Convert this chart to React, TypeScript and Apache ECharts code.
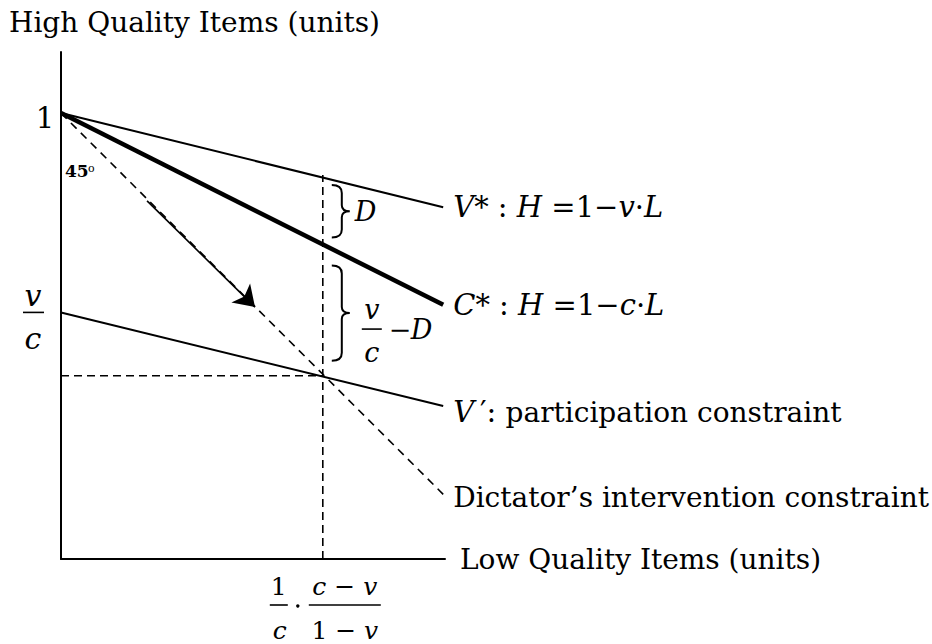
import React, { useEffect, useRef } from 'react';
import * as echarts from 'echarts';

// ---- data (axis units: L = low quality items, H = high quality items) ----
const X_MAX = 0.861;
const Y_MAX = 1.137;
const vStarLine: number[][] = [[0, 1], [0.857, 0.789]];
const cStarLine: number[][] = [[0, 1], [0.857, 0.57]];
const dictatorLine: number[][] = [[0, 1], [0.857, 0.145]];
const vPrimeLine: number[][] = [[0, 0.553], [0.857, 0.343]];
const intersection: number[] = [0.587, 0.411];
const verticalGuide: number[][] = [[0.587, 0], [0.587, 0.861]];
const horizontalGuide: number[][] = [[0, 0.411], [0.587, 0.411]];
const arrowSegment: number[][] = [[0.193, 0.803], [0.435, 0.565]];

const yAxisTitle = 'High Quality Items (units)';
const xAxisTitle = 'Low Quality Items (units)';
const yTickOne = '1';
const angleLabel = '45';

const TEXT_FONT = '"DejaVu Serif", serif';
const MATH_FONT = '"DejaVu Serif", serif';
const TEXT_SIZE = 28;
const MATH_SIZE = 29;

const rich = {
  i: { fontFamily: MATH_FONT, fontStyle: 'italic', fontSize: MATH_SIZE, color: '#000' },
  n: { fontFamily: MATH_FONT, fontSize: MATH_SIZE, color: '#000' },
  t: { fontFamily: TEXT_FONT, fontSize: TEXT_SIZE, color: '#000' },
};

const yAt = (line: number[][], x: number) =>
  line[0][1] + ((line[1][1] - line[0][1]) * (x - line[0][0])) / (line[1][0] - line[0][0]);

const bracePath = (h: number) => {
  const m = h / 2;
  return `M0 0 C6 0 10 2 10 8 L10 ${m - 6} C10 ${m - 2} 13 ${m} 18 ${m} C13 ${m} 10 ${m + 2} 10 ${m + 6} L10 ${h - 8} C10 ${h - 2} 6 ${h} 0 ${h}`;
};

export default function App() {
  const ref = useRef<HTMLDivElement>(null);
  useEffect(() => {
    const el = ref.current!;
    const chart = echarts.init(el, null, { renderer: 'svg' });
    const lineSeries = (data: number[][], width: number, label: string | null, dash: any = 'solid', offset: number[] = [0, 0]) => ({
      type: 'line',
      data,
      symbol: 'none',
      showSymbol: false,
      silent: true,
      clip: false,
      lineStyle: { color: '#000', width, type: dash },
      endLabel: label
        ? { show: true, formatter: () => label, distance: 10, offset, rich, color: '#000' }
        : { show: false },
    });
    const axisCommon = {
      type: 'value',
      min: 0,
      axisLine: { show: true, onZero: false, lineStyle: { color: '#000', width: 2 } },
      axisTick: { show: false },
      axisLabel: { show: false },
      splitLine: { show: false },
    };
    chart.setOption({
      animation: false,
      title: {
        text: yAxisTitle,
        left: 9,
        top: 8,
        padding: 0,
        textStyle: { fontFamily: TEXT_FONT, fontSize: TEXT_SIZE, fontWeight: 'normal', color: '#000' },
      },
      grid: { left: 61, top: 52, width: 384, height: 507 },
      xAxis: {
        ...axisCommon,
        max: X_MAX,
        name: xAxisTitle,
        nameLocation: 'end',
        nameGap: 15,
        nameTextStyle: { fontFamily: TEXT_FONT, fontSize: TEXT_SIZE, color: '#000', verticalAlign: 'middle' },
      },
      yAxis: { ...axisCommon, max: Y_MAX },
      series: [
        lineSeries(verticalGuide, 1.6, null, [8, 5]),
        lineSeries(horizontalGuide, 1.6, null, [8, 5]),
        lineSeries(dictatorLine, 1.6, '{t|Dictator’s intervention constraint}', [8, 6], [0, 3]),
        lineSeries(vStarLine, 2, '{i|V}{n|* : }{i|H}{n| =1−}{i|v}{n|·}{i|L}'),
        lineSeries(cStarLine, 4.5, '{i|C}{n|* : }{i|H}{n| =1−}{i|c}{n|·}{i|L}'),
        lineSeries(vPrimeLine, 2, '{i|V}{n|\u2009′: }{t|participation constraint}', 'solid', [0, 6]),
        {
          type: 'lines',
          coordinateSystem: 'cartesian2d',
          silent: true,
          symbol: ['none', 'arrow'],
          symbolSize: 20,
          lineStyle: { color: '#000', width: 1.6, opacity: 1 },
          data: [{ coords: arrowSegment }],
        },
      ],
    });

    const px = (p: number[]) => chart.convertToPixel({ gridIndex: 0 }, p) as number[];
    const pOne = px([0, 1]);
    const pVC = px([0, vPrimeLine[0][1]]);
    const pX = px(intersection);
    const pAxis = px([intersection[0], 0]);
    const yV = px([intersection[0], yAt(vStarLine, intersection[0])])[1];
    const yC = px([intersection[0], yAt(cStarLine, intersection[0])])[1];

    const b1Top = yV + 7.5;
    const b1H = yC - 7 - b1Top;
    const b2Top = yC + 21;
    const b2H = pX[1] - 15 - b2Top;
    echarts.graphic.registerShape('brace1', echarts.graphic.extendPath(bracePath(b1H), {}) as any);
    echarts.graphic.registerShape('brace2', echarts.graphic.extendPath(bracePath(b2H), {}) as any);

    const mathText = (x: number, y: number, text: string, italic: boolean, size = MATH_SIZE, align = 'center', bold = false) => ({
      type: 'text',
      x,
      y,
      silent: true,
      style: {
        text,
        fill: '#000',
        font: `${italic ? 'italic ' : ''}${bold ? 'bold ' : ''}${size}px "DejaVu Serif", serif`,
        align,
        verticalAlign: 'middle',
      },
    });
    const bar = (x1: number, x2: number, y: number) => ({
      type: 'line',
      silent: true,
      shape: { x1, y1: y, x2, y2: y },
      style: { stroke: '#000', lineWidth: 1.6 },
    });
    const braceStyle = { stroke: '#000', lineWidth: 2, fill: 'none' };
    const mid2 = b2Top + b2H / 2;
    const X = pX[0];
    const AY = pAxis[1];

    chart.setOption({
      graphic: [
        mathText(pOne[0] - 16, pOne[1] + 5, yTickOne, false, 29),
        mathText(pVC[0] - 28, pVC[1] - 17, 'v', true, 30),
        bar(pVC[0] - 38, pVC[0] - 17, pVC[1]),
        mathText(pVC[0] - 28, pVC[1] + 26, 'c', true, 30),
        mathText(pOne[0] + 4, pOne[1] + 58, angleLabel, false, 17, 'left', true),
        mathText(pOne[0] + 27, pOne[1] + 55, 'o', false, 11, 'left'),
        { type: 'brace1', x: X + 9, y: b1Top, silent: true, style: braceStyle },
        mathText(X + 32, b1Top + b1H / 2, 'D', true, 27, 'left'),
        { type: 'brace2', x: X + 9, y: b2Top, silent: true, style: braceStyle },
        mathText(X + 49, mid2 - 4, 'v', true, 27),
        bar(X + 39, X + 59, mid2 + 16),
        mathText(X + 49, mid2 + 39, 'c', true, 27),
        mathText(X + 66, mid2 + 16, '−', false, 27, 'left'),
        mathText(X + 88, mid2 + 16, 'D', true, 27, 'left'),
        mathText(X - 44, AY + 27, '1', false, 25),
        bar(X - 53, X - 35, AY + 46),
        mathText(X - 43, AY + 71, 'c', true, 25),
        { type: 'circle', silent: true, shape: { cx: X - 25, cy: AY + 47, r: 1.7 }, style: { fill: '#000' } },
        mathText(X + 22, AY + 27, 'c − v', true, 25),
        bar(X - 14, X + 58, AY + 46),
        {
          type: 'text',
          x: X + 22,
          y: AY + 71,
          silent: true,
          style: {
            text: '{n|1 − }{i|v}',
            align: 'center',
            verticalAlign: 'middle',
            rich: {
              n: { fontFamily: MATH_FONT, fontSize: 25, fill: '#000' },
              i: { fontFamily: MATH_FONT, fontStyle: 'italic', fontSize: 25, fill: '#000' },
            },
          },
        },
      ],
    });
    return () => chart.dispose();
  }, []);
  return <div ref={ref} style={{ position: 'absolute', left: 0, top: 0, width: 932, height: 644 }} />;
}
